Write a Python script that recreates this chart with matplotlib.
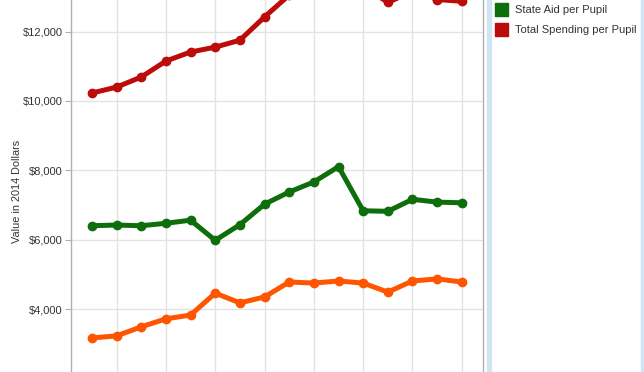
import matplotlib
matplotlib.use('Agg')
import matplotlib.pyplot as plt
from matplotlib import patches
from matplotlib.ticker import FuncFormatter

plt.rcParams['font.family'] = ['Liberation Sans', 'DejaVu Sans']

years = list(range(1999, 2015))

# values in 2014 dollars
total_spending = [10230, 10400, 10690, 11150, 11410, 11550, 11750, 12420,
                  13050, 13400, 13600, 13300, 12840, 13150, 12920, 12870]
state_aid = [6410, 6430, 6410, 6480, 6570, 5990, 6440, 7030,
             7380, 7670, 8110, 6840, 6825, 7170, 7090, 7070]
local_aid = [3180, 3240, 3500, 3730, 3840, 4470, 4190, 4360,
             4790, 4760, 4820, 4760, 4500, 4820, 4880, 4790]

legend_labels = ['State Aid per Pupil', 'Total Spending per Pupil']
legend_colors = ['#0d6e0b', '#bb0c0a']

y_ticks = [4000, 6000, 8000, 10000, 12000]

fig = plt.figure(figsize=(6.44, 3.72), dpi=100)
ax = fig.add_axes([71 / 644, 0, (483 - 71) / 644, 1])

ax.plot(years, local_aid, '-o', color='#ff5500', lw=3.6, ms=6, zorder=3)
ax.plot(years, state_aid, '-o', color='#0d6e0b', lw=3.6, ms=6, zorder=3)
ax.plot(years, total_spending, '-o', color='#bb0c0a', lw=3.6, ms=6, zorder=3)

ax.set_xlim(1998.15, 2014.86)
ax.set_ylim(2200, 12907)
ax.set_xticks(range(2000, 2015, 2))
ax.set_yticks(y_ticks)
ax.yaxis.set_major_formatter(FuncFormatter(lambda v, p: '${:,.0f}'.format(v)))
ax.tick_params(axis='x', length=0, labelbottom=False)
ax.tick_params(axis='y', length=4, color='#b0b0b0', labelsize=8,
               labelcolor='#333333', pad=2)
ax.grid(True, color='#e3e3e3', lw=1)
ax.set_axisbelow(True)

for side in ['top', 'bottom']:
    ax.spines[side].set_visible(False)
for side in ['left', 'right']:
    ax.spines[side].set_color('#b0b0b0')
    ax.spines[side].set_linewidth(1)

fig.text(17 / 644, 1 - 191 / 372, 'Value in 2014 Dollars', rotation=90,
         ha='center', va='center', fontsize=7.8, color='#333333')

# legend panel on the right
fig.patches.append(patches.Rectangle((487 / 644, 0), 4 / 644, 1,
                                     transform=fig.transFigure,
                                     color='#cfe5f1', zorder=0))
fig.patches.append(patches.Rectangle((641 / 644, 0), 3 / 644, 1,
                                     transform=fig.transFigure,
                                     color='#cfe5f1', zorder=0))
for i, (lab, col) in enumerate(zip(legend_labels, legend_colors)):
    y_top = 3 + i * 20
    fig.patches.append(patches.Rectangle((495 / 644, 1 - (y_top + 13) / 372),
                                         13 / 644, 13 / 372,
                                         transform=fig.transFigure,
                                         color=col))
    fig.text(515 / 644, 1 - (y_top + 7) / 372, lab, ha='left', va='center',
             fontsize=8, color='#333333')

fig.savefig('out.png', dpi=100)
